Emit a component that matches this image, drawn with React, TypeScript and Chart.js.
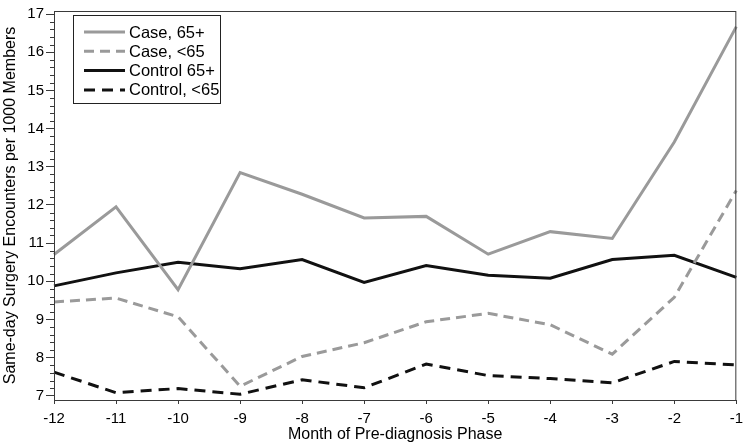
import React, { useEffect, useRef } from "react";
import { Chart, registerables } from "chart.js";

Chart.register(...registerables);

const months = ["-12", "-11", "-10", "-9", "-8", "-7", "-6", "-5", "-4", "-3", "-2", "-1"];
const case65plus = [10.7, 11.95, 9.78, 12.85, 12.28, 11.66, 11.7, 10.71, 11.3, 11.12, 13.65, 16.67];
const caseUnder65 = [9.46, 9.56, 9.07, 7.25, 8.03, 8.39, 8.94, 9.16, 8.86, 8.09, 9.58, 12.38];
const control65plus = [9.88, 10.22, 10.5, 10.33, 10.57, 9.97, 10.41, 10.16, 10.08, 10.57, 10.68, 10.1];
const controlUnder65 = [7.62, 7.08, 7.19, 7.04, 7.42, 7.21, 7.83, 7.53, 7.45, 7.34, 7.9, 7.81];
const yTicks = [7, 8, 9, 10, 11, 12, 13, 14, 15, 16, 17];
const seriesNames = ["Case, 65+", "Case, <65", "Control 65+", "Control, <65"];

const FONT = "'Liberation Sans', Arial, Helvetica, sans-serif";
const FS_TITLE = 16;
const FS_TICK = 15;
const FS_LEGEND = 16.5;
const GRAY = "#9a9a9a";
const BLACK = "#111111";
const AXIS = "#3a3a3a";

const framePlugin = {
  id: "frameAndMinor",
  afterDraw(chart: any) {
    const { ctx, chartArea } = chart;
    const y = chart.scales.y;
    ctx.save();
    ctx.strokeStyle = AXIS;
    ctx.lineWidth = 1;
    ctx.strokeRect(chartArea.left + 0.5, chartArea.top + 0.5, chartArea.right - chartArea.left - 1, chartArea.bottom - chartArea.top);
    // minor ticks on y axis
    ctx.beginPath();
    for (let i = 0; i < yTicks.length - 1; i++) {
      for (let k = 1; k < 5; k++) {
        const v = yTicks[i] + (k * (yTicks[i + 1] - yTicks[i])) / 5;
        const py = Math.round(y.getPixelForValue(v)) + 0.5;
        ctx.moveTo(chartArea.left - 4, py);
        ctx.lineTo(chartArea.left, py);
      }
    }
    ctx.stroke();

    // legend
    const lx = 73, ly = 15, lw = 147, lh = 88;
    ctx.fillStyle = "#ffffff";
    ctx.fillRect(lx, ly, lw, lh);
    ctx.strokeStyle = "#222222";
    ctx.strokeRect(lx + 0.5, ly + 0.5, lw, lh);
    ctx.font = `${FS_LEGEND}px ${FONT}`;
    ctx.textBaseline = "middle";
    chart.data.datasets.forEach((ds: any, i: number) => {
      const ry = ly + 17 + i * 19.3;
      ctx.beginPath();
      ctx.strokeStyle = ds.borderColor;
      ctx.lineWidth = 3;
      ctx.setLineDash(ds.borderDash || []);
      ctx.moveTo(lx + 11, ry);
      ctx.lineTo(lx + 52, ry);
      ctx.stroke();
      ctx.setLineDash([]);
      ctx.fillStyle = "#000000";
      ctx.fillText(ds.label, lx + 56, ry + 1);
    });
    ctx.restore();
  },
};

export default function App() {
  const ref = useRef<HTMLCanvasElement | null>(null);
  useEffect(() => {
    if (!ref.current) return;
    const chart = new Chart(ref.current, {
      type: "line",
      data: {
        labels: months,
        datasets: [
          { label: seriesNames[0], data: case65plus, borderColor: GRAY, borderWidth: 3, pointRadius: 0, tension: 0 },
          { label: seriesNames[1], data: caseUnder65, borderColor: GRAY, borderWidth: 3, borderDash: [10, 6], pointRadius: 0, tension: 0 },
          { label: seriesNames[2], data: control65plus, borderColor: BLACK, borderWidth: 3, pointRadius: 0, tension: 0 },
          { label: seriesNames[3], data: controlUnder65, borderColor: BLACK, borderWidth: 3, borderDash: [11, 7], pointRadius: 0, tension: 0 },
        ],
      },
      options: {
        animation: false,
        responsive: false,
        maintainAspectRatio: false,
        layout: { padding: { top: 3, right: 4, left: 0, bottom: 0 } },
        plugins: { legend: { display: false }, tooltip: { enabled: false } },
        scales: {
          x: {
            type: "category",
            offset: false,
            grid: { drawOnChartArea: false, drawTicks: true, tickLength: 4, color: AXIS },
            border: { color: AXIS },
            ticks: { color: "#000", font: { family: FONT, size: FS_TICK }, padding: 6, maxRotation: 0, autoSkip: false },
            title: { display: true, text: "Month of Pre-diagnosis Phase", color: "#000", font: { family: FONT, size: FS_TITLE }, padding: { top: 0, bottom: 0 } },
            afterFit: (s: any) => { s.height = 44; },
          },
          y: {
            type: "linear",
            min: 6.89,
            max: 17.08,
            afterBuildTicks: (s: any) => { s.ticks = yTicks.map((v) => ({ value: v })); },
            grid: { drawOnChartArea: false, drawTicks: true, tickLength: 8, color: AXIS },
            border: { color: AXIS },
            ticks: { color: "#000", font: { family: FONT, size: FS_TICK }, padding: 2 },
            title: { display: true, text: "Same-day Surgery Encounters per 1000 Members", color: "#000", font: { family: FONT, size: FS_TITLE }, padding: { top: 1, bottom: 2 } },
            afterFit: (s: any) => { s.width = 54; },
          },
        },
      },
      plugins: [framePlugin],
    });
    return () => chart.destroy();
  }, []);
  return (
    <div style={{ position: "absolute", left: 0, top: 0, width: 749, height: 444, background: "#fff" }}>
      <canvas ref={ref} width={749} height={444} style={{ width: 749, height: 444 }} />
    </div>
  );
}
